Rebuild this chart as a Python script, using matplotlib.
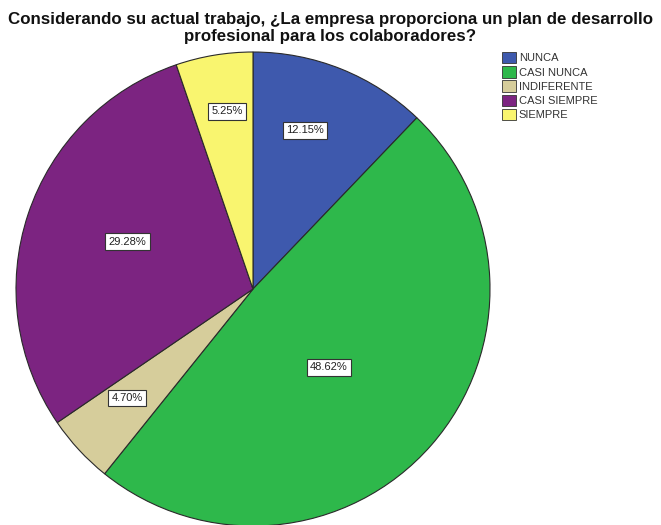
import matplotlib
matplotlib.use('Agg')
import matplotlib.pyplot as plt
import matplotlib.patches as patches
from matplotlib import font_manager

# answer categories and their share of respondents (%)
categories = ['NUNCA', 'CASI NUNCA', 'INDIFERENTE', 'CASI SIEMPRE', 'SIEMPRE']
percentages = [12.15, 48.62, 4.70, 29.28, 5.25]
colors = ['#3e59ad', '#2eb84b', '#d6cd9b', '#7c2481', '#f9f56f']

# where each percentage box sits, in pie radius units
label_xy = [(0.22, 0.67), (0.32, -0.33), (-0.53, -0.46), (-0.53, 0.20), (-0.11, 0.75)]

title = ('Considerando su actual trabajo, ¿La empresa proporciona un plan de desarrollo\n'
         'profesional para los colaboradores?')


def pick_family(names):
    for name in names:
        try:
            font_manager.findfont(name, fallback_to_default=False)
            return name
        except ValueError:
            continue
    return 'DejaVu Sans'


narrow = pick_family(['Liberation Sans Narrow', 'Liberation Sans'])
plt.rcParams['font.family'] = [narrow, 'DejaVu Sans']

fig = plt.figure(figsize=(6.61, 5.25), dpi=100)
fig.patch.set_facecolor('white')

# pie axes: square, centre near the left, bottom runs to the edge
ax = fig.add_axes([16 / 661, -1 / 525, 474 / 661, 474 / 525])
wedges, _ = ax.pie(percentages, colors=colors, startangle=90, counterclock=False,
                   radius=1.0, wedgeprops=dict(edgecolor='#2a2a2a', linewidth=0.8))
ax.set_xlim(-1, 1)
ax.set_ylim(-1, 1)
ax.set_aspect('auto')
ax.axis('off')

for pct, (x, y) in zip(percentages, label_xy):
    ax.text(x, y, f'{pct:.2f}%', ha='center', va='center', fontsize=8, color='#222222',
            bbox=dict(boxstyle='square,pad=0.3', facecolor='white', edgecolor='#333333', linewidth=0.8))

ttl = fig.text(0.5, 1 - 28 / 525, title, ha='center', va='center', fontsize=13, fontweight='bold',
               linespacing=1.15, color='#111111')

# squeeze the title to the width it should span
fig.canvas.draw()
w = ttl.get_window_extent().width
if w > 0:
    ttl.set_fontsize(13 * 642 / w)

handles = [patches.Patch(facecolor=c, edgecolor='#333333', linewidth=0.6) for c in colors]
leg = fig.legend(handles, categories, loc='upper left', bbox_to_anchor=(502 / 661, 1 - 52 / 525),
                 frameon=False, fontsize=8, handlelength=1.3, handleheight=1.2,
                 handletextpad=0.2, labelspacing=0.25, borderaxespad=0, borderpad=0)
for t in leg.get_texts():
    t.set_color('#333333')

fig.savefig('out.png', dpi=100, facecolor='white')
